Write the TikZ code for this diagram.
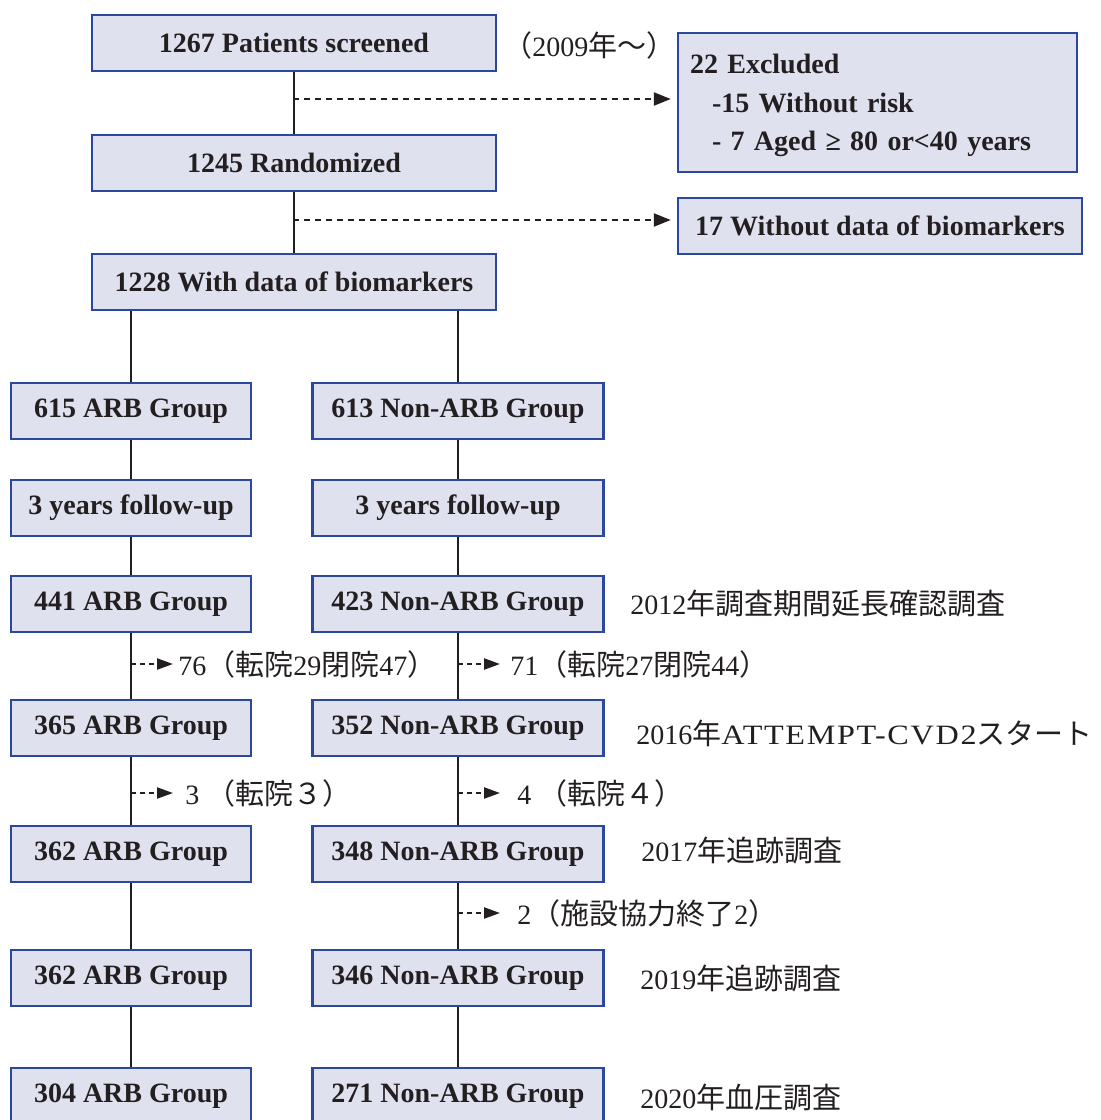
\documentclass[tikz,border=0pt]{standalone}
\usepackage{fontspec}
\setmainfont{Liberation Serif}
\newfontfamily\cjk{Noto Sans CJK JP}
\usetikzlibrary{arrows.meta}

\definecolor{ink}{RGB}{35,31,32}
\definecolor{boxfill}{RGB}{223,225,239}
\definecolor{boxline}{RGB}{42,72,158}

% Japanese run inside a Latin line
\newcommand\jp[1]{{\cjk\fontsize{14.5}{16}\selectfont #1}}

\begin{document}
\begin{tikzpicture}[x=0.5pt,y=-0.5pt,
  box/.style={draw=boxline, fill=boxfill, line width=1.2pt, inner sep=0pt,
    text=ink, font=\bfseries\fontsize{14}{16}\selectfont},
  mainbox/.style={box, minimum width=202pt, minimum height=28pt},
  armL/.style={box, minimum width=120pt, minimum height=28pt},
  armR/.style={box, minimum width=145.5pt, minimum height=28pt},
  note/.style={inner sep=0pt, anchor=west, text=ink, font=\fontsize{14}{16}\selectfont},
  link/.style={draw=ink, line width=1pt},
  drop/.style={draw=ink, line width=1.1pt, dash pattern=on 3pt off 2.5pt,
    -{Triangle[length=8.5pt,width=6.5pt]}},
  dropsm/.style={draw=ink, line width=1.1pt, dash pattern=on 2.5pt off 2pt,
    -{Triangle[length=8pt,width=5.5pt]}}
]
\clip (0,0) rectangle (1100,1120);
\fill[white] (0,0) rectangle (1100,1120);

% screening and randomisation
\node[mainbox] (scr) at (294,43) {1267 Patients screened};
\node[mainbox] (rnd) at (294,163) {1245 Randomized};
\node[mainbox] (bio) at (294,282) {1228 With data of biomarkers};
\node[note] (y2009) at (503,45) {\jp{（}2009\jp{年～）}};

\node[box, minimum width=199.5pt, minimum height=69.5pt, text width=187.5pt,
  inner xsep=6pt, align=left, font=\bfseries\fontsize{14}{19.25}\selectfont]
  (exc) at (877.5,102.5)
  {\rule{0pt}{13pt}22 Excluded\\\hspace*{11pt}-15 Without risk\\\hspace*{11pt}-\ 7 Aged ≥ 80 or<40 years};
\node[box, minimum width=202pt, minimum height=28pt] (nob) at (880,226) {17 Without data of biomarkers};

\draw[link] (scr) -- (rnd);
\draw[link] (rnd) -- (bio);
\coordinate (d1) at (293,99);
\coordinate (d2) at (293,220);
\draw[drop, shorten >=3pt] (d1) -- (d1 -| exc.west);
\draw[drop, shorten >=3pt] (d2) -- (d2 -| nob.west);

% two arms
\foreach \r/\yy in {1/411,2/508,3/604,4/728,5/854,6/978,7/1096}{
  \coordinate (L\r) at (131,\yy);
  \coordinate (R\r) at (458,\yy);
}
\node[armL] (a1) at (L1) {615 ARB Group};
\node[armR] (b1) at (R1) {613 Non-ARB Group};
\node[armL] (a2) at (L2) {3 years follow-up};
\node[armR] (b2) at (R2) {3 years follow-up};
\node[armL] (a3) at (L3) {441 ARB Group};
\node[armR] (b3) at (R3) {423 Non-ARB Group};
\node[armL] (a4) at (L4) {365 ARB Group};
\node[armR] (b4) at (R4) {352 Non-ARB Group};
\node[armL] (a5) at (L5) {362 ARB Group};
\node[armR] (b5) at (R5) {348 Non-ARB Group};
\node[armL] (a6) at (L6) {362 ARB Group};
\node[armR] (b6) at (R6) {346 Non-ARB Group};
\node[armL] (a7) at (L7) {304 ARB Group};
\node[armR] (b7) at (R7) {271 Non-ARB Group};

\draw[link] (a1.north |- bio.south) -- (a1.north);
\draw[link] (b1.north |- bio.south) -- (b1.north);
\foreach \p/\n in {1/2,2/3,3/4,4/5,5/6,6/7}{
  \draw[link] (a\p) -- (a\n);
  \draw[link] (b\p) -- (b\n);
}

% losses to follow-up
\node[note] (l34) at (178,664) {76\jp{（転院}29\jp{閉院}47\jp{）}};
\node[note] (r34) at (510,664) {71\jp{（転院}27\jp{閉院}44\jp{）}};
\node[note] (l45) at (185,793) {3 \jp{（転院３）}};
\node[note] (r45) at (517,793) {4 \jp{（転院４）}};
\node[note] (r56) at (517,913) {2\jp{（施設協力終了}2\jp{）}};

\coordinate (sL34) at (131,664); \coordinate (tL34) at (173,664);
\coordinate (sR34) at (458,664); \coordinate (tR34) at (500,664);
\coordinate (sL45) at (131,793); \coordinate (tL45) at (173,793);
\coordinate (sR45) at (458,793); \coordinate (tR45) at (500,793);
\coordinate (sR56) at (458,913); \coordinate (tR56) at (500,913);
\draw[dropsm] (sL34) -- (tL34);
\draw[dropsm] (sR34) -- (tR34);
\draw[dropsm] (sL45) -- (tL45);
\draw[dropsm] (sR45) -- (tR45);
\draw[dropsm] (sR56) -- (tR56);

% survey milestones
\node[note] (m2012) at (630,603) {2012\jp{年調査期間延長確認調査}};
\node[note] (m2016) at (636,733) {2016\jp{年}{\addfontfeature{FakeStretch=1.15,LetterSpace=6}ATTEMPT-CVD2}\jp{スタート}};
\node[note] (m2017) at (641,850) {2017\jp{年追跡調査}};
\node[note] (m2019) at (640,978) {2019\jp{年追跡調査}};
\node[note] (m2020) at (640,1097) {2020\jp{年血圧調査}};
\end{tikzpicture}
\end{document}
